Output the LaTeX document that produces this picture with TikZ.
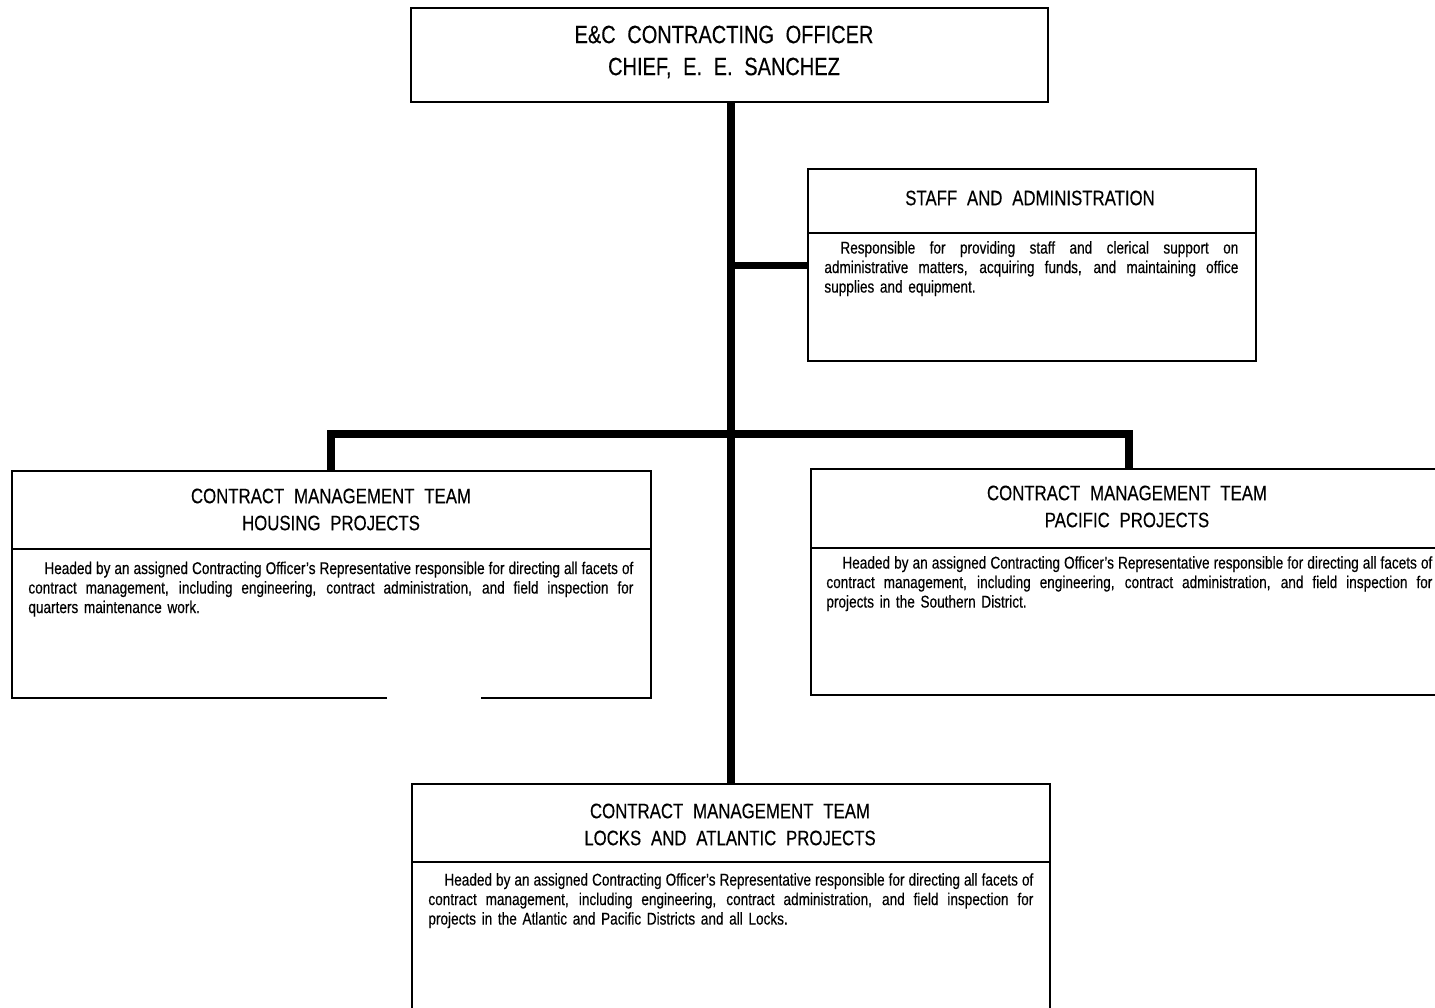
\documentclass[tikz,border=0pt]{standalone}
\usepackage{fontspec}
\setmainfont{Liberation Sans}
\newfontfamily\titlefont{Liberation Sans}[FakeStretch=0.8,WordSpace=2.1,FakeBold=0.3]
\newfontfamily\bodyfont{Liberation Sans}[FakeStretch=0.8,FakeBold=0.35]
% one justified line of a description: width, indent, text
\newcommand\jline[3]{\noindent\hbox to #1{%
  \spaceskip=\fontdimen2\font plus 1fil minus \fontdimen4\font\relax
  \strut\hspace*{#2}#3}\par}
\begin{document}
\begin{tikzpicture}[x=0.5pt,y=-0.5pt,
  shell/.style={rectangle,inner sep=0pt,anchor=north west},
  box/.style={shell,draw=black,line width=1.2pt},
  frame/.style={line width=1.2pt,line join=miter},
  divider/.style={line width=0.8pt},
  trunk/.style={line width=4pt},
  branch/.style={line width=3.5pt},
  title/.style={inner sep=0pt,align=center,font={\titlefont\fontsize{10.5}{13.5}\selectfont}},
  body/.style={inner sep=0pt,anchor=north west,font={\bodyfont\fontsize{8.5}{9.75}\selectfont}}]
\fill[white] (0,0) rectangle (1435,1007);
\useasboundingbox (0,0) rectangle (1435,1007);
\clip (0,0) rectangle (1435,1007);

% boxes
\node[box,minimum width=318.5pt,minimum height=47pt] (top) at (410,7) {};
\node[box,minimum width=224pt,minimum height=96pt] (staff) at (807,168) {};
\node[shell,minimum width=319pt,minimum height=113pt] (housing) at (12,471) {};
\node[box,minimum width=318pt,minimum height=113pt] (pacific) at (810,468) {};
\node[box,minimum width=319pt,minimum height=116pt] (locks) at (411,783) {};

% housing frame, open along part of its lower edge
\draw[frame] (housing.south -| 387,0) -- (housing.south west) -- (housing.north west)
  -- (housing.north east) -- (housing.south east) -- (housing.south -| 481,0);

% header dividers
\draw[divider] (staff.west |- 0,233) -- (staff.east |- 0,233);
\draw[divider] (housing.west |- 0,549) -- (housing.east |- 0,549);
\draw[divider] (pacific.west |- 0,548) -- (pacific.east |- 0,548);
\draw[divider] (locks.west |- 0,862) -- (locks.east |- 0,862);

% connectors
\coordinate (bar) at (731,434);
\draw[trunk] (top.south -| bar) -- (locks.north -| bar);
\draw[branch] (staff.west -| bar) -- (staff.west);
\draw[trunk,line join=miter] (housing.north) |- (bar) -| (pacific.north);

% titles
\node[title,font={\titlefont\fontsize{12.5}{16}\selectfont}] (toptitle) at (724,52)
  {E\&C CONTRACTING OFFICER\\CHIEF, E. E. SANCHEZ};
\node[title] (stafftitle) at (1030,198) {STAFF AND ADMINISTRATION};
\node[title] (housingtitle) at (331,509.5) {CONTRACT MANAGEMENT TEAM\\HOUSING PROJECTS};
\node[title] (pacifictitle) at (1127,506.5) {CONTRACT MANAGEMENT TEAM\\PACIFIC PROJECTS};
\node[title] (lockstitle) at (730,824.5) {CONTRACT MANAGEMENT TEAM\\LOCKS AND ATLANTIC PROJECTS};

% descriptions
\node[body,text width=207pt] (stafftext) at (824,239.5) {%
  \jline{207pt}{8pt}{Responsible for providing staff and clerical support on}
  \jline{207pt}{0pt}{administrative matters, acquiring funds, and maintaining office}
  \noindent\strut supplies and equipment.\par};
\node[body,text width=302.5pt] (housingtext) at (28,560) {%
  \jline{302.5pt}{8pt}{Headed by an assigned Contracting Officer’s Representative responsible for directing all facets of}
  \jline{302.5pt}{0pt}{contract management, including engineering, contract administration, and field inspection for}
  \noindent\strut quarters maintenance work.\par};
\node[body,text width=303pt] (pacifictext) at (826,554.5) {%
  \jline{303pt}{8pt}{Headed by an assigned Contracting Officer’s Representative responsible for directing all facets of}
  \jline{303pt}{0pt}{contract management, including engineering, contract administration, and field inspection for}
  \noindent\strut projects in the Southern District.\par};
\node[body,text width=302.5pt] (lockstext) at (428,871.5) {%
  \jline{302.5pt}{8pt}{Headed by an assigned Contracting Officer’s Representative responsible for directing all facets of}
  \jline{302.5pt}{0pt}{contract management, including engineering, contract administration, and field inspection for}
  \noindent\strut projects in the Atlantic and Pacific Districts and all Locks.\par};
\end{tikzpicture}
\end{document}
